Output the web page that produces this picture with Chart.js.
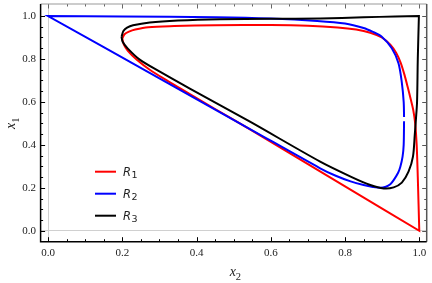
<!DOCTYPE html>
<html>
<head>
<meta charset="utf-8">
<script src="https://cdn.jsdelivr.net/npm/chart.js@4.4.1/dist/chart.umd.min.js"></script>
<style>
  html, body { margin: 0; padding: 0; background: #fff; }
  #wrap { width: 432px; height: 283px; position: relative; }
</style>
</head>
<body>
<div id="wrap"><canvas id="chart"></canvas></div>
<script>
// R1 boundary (x2, x1), starting at the nose and going round
const r1X = [0.200, 0.206, 0.218, 0.235, 0.270, 0.340, 0.450, 0.600, 0.700, 0.780, 0.830, 0.868, 0.899, 0.922, 0.938, 0.950, 0.960, 0.969, 0.977, 0.984, 0.989, 0.993, 0.996, 1.000, 1.000, 0.800, 0.544, 0.450, 0.364, 0.320, 0.274, 0.240, 0.215, 0.204, 0.200];
const r1Y = [0.895, 0.915, 0.927, 0.937, 0.948, 0.953, 0.957, 0.958, 0.955, 0.947, 0.937, 0.922, 0.900, 0.867, 0.828, 0.782, 0.727, 0.668, 0.612, 0.560, 0.500, 0.400, 0.250, 0.000, 0.000, 0.207, 0.472, 0.567, 0.655, 0.700, 0.750, 0.795, 0.838, 0.868, 0.895];

// R2 boundary, starting just below the small break on the right side
const r2X = [0.959, 0.958, 0.955, 0.949, 0.943, 0.931, 0.922, 0.910, 0.895, 0.875, 0.850, 0.815, 0.775, 0.733, 0.550, 0.300, 0.000, 0.000, 0.200, 0.452, 0.600, 0.725, 0.800, 0.850, 0.875, 0.899, 0.926, 0.944, 0.953, 0.958, 0.959];
const r2Y = [0.510, 0.400, 0.345, 0.298, 0.270, 0.236, 0.217, 0.205, 0.200, 0.204, 0.213, 0.230, 0.256, 0.291, 0.468, 0.710, 1.000, 1.000, 0.998, 0.994, 0.988, 0.977, 0.965, 0.944, 0.926, 0.904, 0.850, 0.780, 0.690, 0.600, 0.530];

// R3 boundary
const r3X = [0.198, 0.203, 0.213, 0.229, 0.274, 0.350, 0.463, 0.600, 0.733, 0.850, 0.935, 0.999, 0.999, 0.996, 0.994, 0.991, 0.988, 0.983, 0.971, 0.953, 0.931, 0.904, 0.868, 0.818, 0.733, 0.544, 0.382, 0.300, 0.247, 0.215, 0.201, 0.198];
const r3Y = [0.903, 0.930, 0.946, 0.957, 0.970, 0.979, 0.985, 0.987, 0.989, 0.994, 0.998, 1.000, 1.000, 0.800, 0.600, 0.520, 0.450, 0.345, 0.275, 0.224, 0.202, 0.197, 0.213, 0.250, 0.322, 0.508, 0.662, 0.742, 0.797, 0.848, 0.880, 0.903];

const seriesNames = ['R1', 'R2', 'R3'];
const seriesColors = ['#ff0000', '#0000ff', '#000000'];
const xTicks = [0.0, 0.2, 0.4, 0.6, 0.8, 1.0];
const yTicks = [0.0, 0.2, 0.4, 0.6, 0.8, 1.0];

const zip = (xs, ys) => xs.map((v, i) => ({ x: v, y: ys[i] }));
const serif = "'Liberation Serif', 'Times New Roman', serif";

// frame with inward ticks, axis titles and the legend inside the plot
const framePlugin = {
    id: 'frame',
    afterDatasetsDraw(chart) {
        const { ctx, chartArea: a, scales: { x, y } } = chart;
        ctx.save();

        const minors = [];
        for (let i = 0; i <= 20; i++) minors.push(i * 0.05);

        function ticks(color, side) {
            ctx.strokeStyle = color;
            ctx.lineWidth = 1;
            ctx.beginPath();
            minors.forEach(v => {
                const major = Math.abs(v * 5 - Math.round(v * 5)) < 1e-6;
                const len = major ? 4.5 : 2.5;
                if (side === 'bottom' || side === 'top') {
                    const px = Math.round(x.getPixelForValue(v)) + 0.5;
                    const py = side === 'bottom' ? a.bottom : a.top;
                    ctx.moveTo(px, py);
                    ctx.lineTo(px, side === 'bottom' ? py - len : py + len);
                } else {
                    const py = Math.round(y.getPixelForValue(v)) + 0.5;
                    const px = side === 'left' ? a.left : a.right;
                    ctx.moveTo(px, py);
                    ctx.lineTo(side === 'left' ? px + len : px - len, py);
                }
            });
            ctx.stroke();
        }
        ticks('#000', 'bottom');
        ticks('#000', 'left');
        ticks('#666', 'top');
        ticks('#555', 'right');

        ctx.lineWidth = 1;
        ctx.strokeStyle = '#999';
        ctx.beginPath(); ctx.moveTo(a.left, a.top); ctx.lineTo(a.right, a.top); ctx.stroke();
        ctx.lineWidth = 1.5;
        ctx.strokeStyle = '#555';
        ctx.beginPath(); ctx.moveTo(a.right, a.top); ctx.lineTo(a.right, a.bottom); ctx.stroke();
        ctx.strokeStyle = '#000';
        ctx.beginPath(); ctx.moveTo(a.left, a.top); ctx.lineTo(a.left, a.bottom); ctx.lineTo(a.right, a.bottom); ctx.stroke();

        // axis titles: italic x with a subscript digit
        ctx.fillStyle = '#222';
        ctx.textBaseline = 'alphabetic';
        ctx.textAlign = 'left';
        const cx = (a.left + a.right) / 2;
        ctx.font = 'italic 14px ' + serif;
        const wx = ctx.measureText('x').width;
        ctx.fillText('x', cx - 4, 276);
        ctx.font = '10.5px ' + serif;
        ctx.fillText('2', cx - 4 + wx, 280);

        ctx.save();
        ctx.translate(15, 129);
        ctx.rotate(-Math.PI / 2);
        ctx.font = 'italic 14px ' + serif;
        ctx.fillText('x', 0, 0);
        ctx.font = '10.5px ' + serif;
        ctx.fillText('1', wx, 4);
        ctx.restore();

        // legend
        chart.data.datasets.forEach((ds, i) => {
            const ly = 171.7 + i * 22;
            ctx.strokeStyle = ds.borderColor;
            ctx.lineWidth = 2;
            ctx.beginPath(); ctx.moveTo(95, ly); ctx.lineTo(116, ly); ctx.stroke();
            ctx.fillStyle = '#222';
            ctx.font = "italic 11.5px 'DejaVu Sans', sans-serif";
            const name = ds.label;
            ctx.fillText(name[0], 123, ly + 4.2);
            const wr = ctx.measureText(name[0]).width;
            ctx.font = "9.5px 'DejaVu Sans', sans-serif";
            ctx.fillText(name.slice(1), 123 + wr + 0.5, ly + 6);
        });
        ctx.restore();
    }
};

const datasets = [zip(r1X, r1Y), zip(r2X, r2Y), zip(r3X, r3Y)].map((pts, i) => ({
    label: seriesNames[i],
    data: pts,
    showLine: true,
    borderColor: seriesColors[i],
    backgroundColor: seriesColors[i],
    borderWidth: 2,
    pointRadius: 0,
    tension: 0.3,
    fill: false,
    order: 3 - i
}));

const zeroGrid = c => (c.tick && Math.abs(c.tick.value) < 1e-9) ? '#d0d0d0' : 'rgba(0,0,0,0)';

new Chart(document.getElementById('chart').getContext('2d'), {
    type: 'scatter',
    data: { datasets: datasets },
    options: {
        responsive: true,
        maintainAspectRatio: false,
        animation: false,
        layout: { padding: { top: 4, right: 5.3, left: 0, bottom: 0 } },
        plugins: { legend: { display: false }, tooltip: { enabled: false } },
        scales: {
            x: {
                type: 'linear', min: -0.02, max: 1.02,
                afterBuildTicks: s => { s.ticks = xTicks.map(v => ({ value: v })); },
                afterFit: s => { s.height = 41.3; s.paddingLeft = 0; s.paddingRight = 0; },
                ticks: { callback: v => v.toFixed(1), font: { family: serif, size: 11 }, color: '#222', padding: 5, maxRotation: 0 },
                grid: { drawTicks: false, color: zeroGrid, lineWidth: 1 },
                border: { display: false }
            },
            y: {
                type: 'linear', min: -0.051, max: 1.056,
                afterBuildTicks: s => { s.ticks = yTicks.map(v => ({ value: v })); },
                afterFit: s => { s.width = 40.6; s.paddingTop = 0; s.paddingBottom = 0; },
                ticks: { callback: v => v.toFixed(1), font: { family: serif, size: 11 }, color: '#222', padding: 4.5 },
                grid: { drawTicks: false, color: zeroGrid, lineWidth: 1 },
                border: { display: false }
            }
        }
    },
    plugins: [framePlugin]
});
</script>
</body>
</html>
